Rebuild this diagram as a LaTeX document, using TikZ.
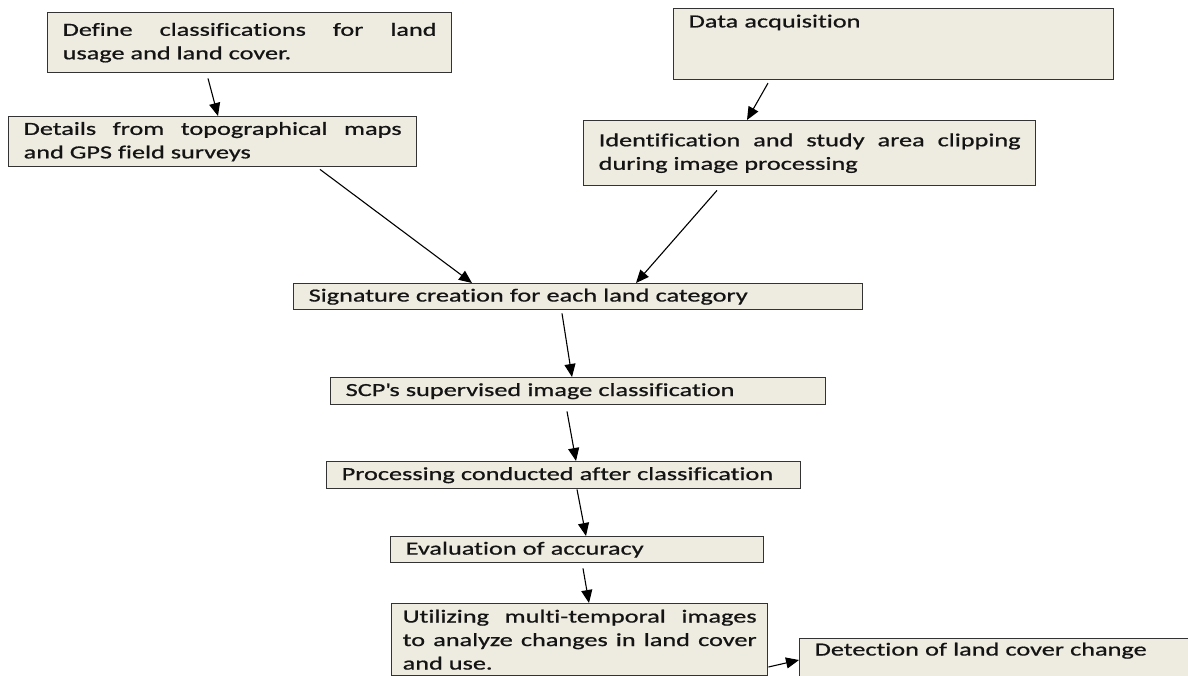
\documentclass[tikz,border=0pt]{standalone}
\usepackage{fontspec}
\setmainfont{Carlito}[FakeStretch=1.42, FakeBold=0.8, Ligatures={NoCommon}]
\usetikzlibrary{arrows.meta}
\definecolor{boxfill}{HTML}{EEECE1}
\definecolor{boxline}{HTML}{333333}
\definecolor{txt}{HTML}{141414}
\begin{document}
\begin{tikzpicture}[x=1pt,y=-1pt,
  box/.style={draw=boxline, line width=1.4pt, fill=boxfill, anchor=north west,
    inner xsep=15pt, inner ysep=3pt, font=\fontsize{18.5}{23.5}\selectfont,
    text=txt, align=left},
  jbox/.style={box, align=justify},
  arr/.style={draw=black, line width=1.1pt, -{Triangle[length=13pt,width=11pt]}}]
\useasboundingbox (0,0) rectangle (1188,675);
\clip (0,0) rectangle (1188,675);
\fill[white] (0,0) rectangle (1188,675);

\node[jbox, text width=374pt, minimum height=60pt] (define) at (47,12)
  {Define classifications for land\linebreak usage and land cover.};
\node[jbox, text width=378pt, minimum height=50pt] (details) at (8,116)
  {Details from topographical maps\linebreak and GPS field surveys};
\node[box, text width=410pt, inner ysep=6pt, text depth=46pt] (data) at (673,8)
  {Data acquisition};
\node[jbox, text width=422pt, minimum height=65pt] (ident) at (583,120)
  {Identification and study area clipping\linebreak during image processing};
\node[box, text width=539pt, minimum height=26pt] (sig) at (293,283)
  {Signature creation for each land category};
\node[box, text width=465pt, minimum height=27pt] (scp) at (330,377)
  {SCP\textquotesingle s supervised image classification};
\node[box, text width=444pt, minimum height=27pt] (proc) at (326,461)
  {Processing conducted after classification};
\node[box, text width=343pt, minimum height=26pt] (eval) at (390,536)
  {Evaluation of accuracy};
\node[jbox, inner xsep=11pt, inner ysep=6pt, text width=354pt] (util) at (391,603)
  {Utilizing multi-temporal images\linebreak to analyze changes in land cover\linebreak and use.};
\node[box, text width=420pt, inner ysep=4pt, text depth=30pt] (detect) at (799,638)
  {Detection of land cover change};

\draw[arr] ([xshift=161pt,yshift=-5pt]define.south west) -- ([xshift=210pt]details.north west);
\draw[arr] ([xshift=95pt,yshift=-3pt]data.south west) -- ([xshift=164pt]ident.north west);
\draw[arr] ([xshift=312pt,yshift=-2pt]details.south west) -- ([xshift=179pt]sig.north west);
\draw[arr] ([xshift=134pt,yshift=-4pt]ident.south west) -- ([xshift=343pt]sig.north west);
\draw[arr] ([xshift=269pt,yshift=-3pt]sig.south west) -- ([xshift=242pt]scp.north west);
\draw[arr] ([xshift=237pt,yshift=-6pt]scp.south west) -- ([xshift=250pt]proc.north west);
\draw[arr] ([xshift=251pt]proc.south west) -- ([xshift=196pt]eval.north west);
\draw[arr] ([xshift=193pt,yshift=-5pt]eval.south west) -- ([xshift=198pt]util.north west);
\draw[arr] ([yshift=-64pt]util.north east) -- ([yshift=-22pt]detect.north west);
\end{tikzpicture}
\end{document}
